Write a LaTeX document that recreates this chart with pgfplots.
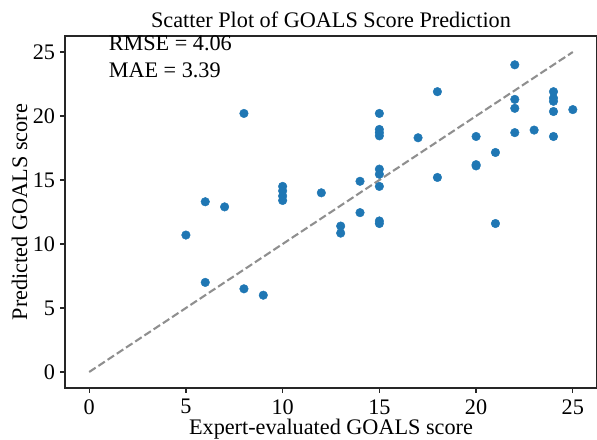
\documentclass[border=0pt]{standalone}
\usepackage{fontspec}
\setmainfont{Liberation Serif}
\usepackage{pgfplots}
\pgfplotsset{compat=1.18}
\definecolor{mplblue}{HTML}{1F77B4}
\definecolor{spine}{HTML}{262626}
\definecolor{refgray}{HTML}{8F8F8F}
\newcommand{\ft}{\fontsize{16}{19.2}\selectfont}
\begin{document}
\begin{tikzpicture}
\begin{axis}[name=ax, scale only axis, width=383.04pt, height=253.44pt,
  xmin=-1.25, xmax=26.25, ymin=-1.25, ymax=26.25,
  xtick={0,5,10,15,20,25}, ytick={0,5,10,15,20,25},
  tick align=outside, major tick length=3.5pt, tick pos=left,
  axis line style={spine, line width=0.9pt},
  every tick/.style={spine, line width=0.9pt},
  /pgf/number format/assume math mode=true,
  tick label style={font=\ft},
  xticklabel style={anchor=north, inner sep=0pt, yshift=-4.5pt},
  yticklabel style={anchor=east, inner sep=0pt, xshift=-3.5pt},
  clip=false,
]
\addplot[refgray, line width=1.5pt, dash pattern=on 5.55pt off 2.4pt] coordinates {(0,0) (25,25)};
\addplot[only marks, mark=*, mark size=3.1pt, mark options={fill=mplblue, draw=mplblue, line width=0.3pt}] table {
x y
5 10.7
6 13.3
6 7.0
7 12.9
8 20.2
8 6.5
9 6.0
10 14.5
10 14.15
10 13.75
10 13.4
12 14.0
13 11.4
13 10.85
14 14.9
14 12.45
15 20.2
15 18.95
15 18.7
15 18.45
15 15.85
15 15.45
15 14.5
15 11.8
15 11.6
17 18.3
18 21.9
18 15.2
20 18.4
20 16.2
20 16.1
21 17.15
21 11.6
22 24.0
22 21.3
22 20.6
22 18.7
23 18.9
24 21.9
24 21.4
24 21.15
24 20.35
24 18.4
25 20.5
};
\node[anchor=base west, inner sep=0pt, font=\ft] at (axis cs:1,23) {MAE = 3.39};
\node[anchor=base west, inner sep=0pt, font=\ft] at ([yshift=19.2pt]axis cs:1,23) {RMSE = 4.06};
\end{axis}
\node[anchor=north, inner sep=0pt, font=\ft] at ([yshift=-22.4pt]ax.south) {Expert-evaluated GOALS score};
\node[anchor=base, inner sep=0pt, font=\ft] at ([yshift=6pt]ax.north) {Scatter Plot of GOALS Score Prediction};
\node[anchor=south, rotate=90, inner sep=0pt, font=\ft] at ([xshift=-27pt]ax.west) {Predicted GOALS score};
\pgfresetboundingbox
\path[use as bounding box] ([xshift=-46.8pt,yshift=-36.72pt]ax.south west) rectangle ([yshift=25.92pt]ax.north east);
\end{tikzpicture}
\end{document}
